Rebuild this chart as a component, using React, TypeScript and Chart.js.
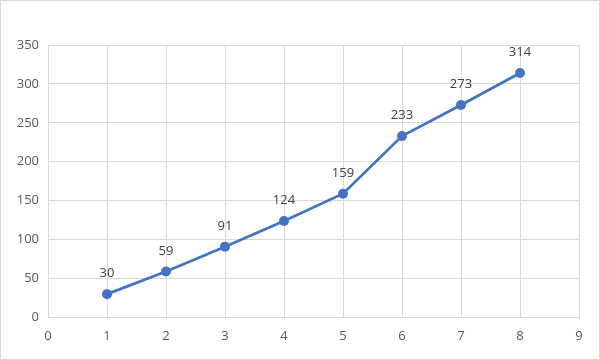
import React, { useEffect, useRef } from "react";
import { Chart, registerables } from "chart.js";

Chart.register(...registerables);

const xValues = [1, 2, 3, 4, 5, 6, 7, 8];
const yValues = [30, 59, 91, 124, 159, 233, 273, 314];

const FONT = "'Open Sans', 'Noto Sans', sans-serif";

const dataLabels = {
  id: "dataLabels",
  afterDatasetsDraw(chart: any) {
    const ctx = chart.ctx;
    const meta = chart.getDatasetMeta(0);
    ctx.save();
    ctx.font = `13px ${FONT}`;
    ctx.fillStyle = "#404040";
    ctx.textAlign = "center";
    ctx.textBaseline = "middle";
    meta.data.forEach((el: any, i: number) => {
      ctx.fillText(String(yValues[i]), el.x, el.y - 20.5);
    });
    ctx.restore();
  },
};

const frame = {
  id: "frame",
  beforeDraw(chart: any) {
    const ctx = chart.ctx;
    ctx.save();
    ctx.fillStyle = "#ffffff";
    ctx.fillRect(0, 0, chart.width, chart.height);
    ctx.strokeStyle = "#D9D9D9";
    ctx.lineWidth = 1;
    ctx.strokeRect(0.5, 0.5, chart.width - 1, chart.height - 1);
    ctx.restore();
  },
};

export default function App() {
  const ref = useRef<HTMLCanvasElement>(null);
  useEffect(() => {
    if (!ref.current) return;
    const chart = new Chart(ref.current, {
      type: "scatter",
      data: {
        datasets: [
          {
            data: xValues.map((x, i) => ({ x, y: yValues[i] })),
            showLine: true,
            borderColor: "#4472C4",
            backgroundColor: "#4472C4",
            borderWidth: 2.75,
            pointRadius: 5,
            pointHoverRadius: 5,
            pointBorderWidth: 0,
          },
        ],
      },
      options: {
        animation: false,
        responsive: false,
        devicePixelRatio: 1,
        layout: { padding: { top: 45, right: 21, left: 0, bottom: 0 } },
        plugins: { legend: { display: false }, tooltip: { enabled: false } },
        scales: {
          x: {
            type: "linear",
            min: 0,
            max: 9,
            ticks: { stepSize: 1, color: "#595959", font: { family: FONT, size: 13 }, padding: 11 },
            grid: { color: "#D9D9D9", drawTicks: false },
            border: { color: "#D9D9D9" },
            afterFit: (s: any) => { s.height = 42.5; },
          },
          y: {
            min: 0,
            max: 350,
            ticks: { stepSize: 50, color: "#595959", font: { family: FONT, size: 13 }, padding: 9 },
            grid: { color: "#D9D9D9", drawTicks: false },
            border: { color: "#D9D9D9" },
            afterFit: (s: any) => { s.width = 48; },
          },
        },
      },
      plugins: [frame, dataLabels],
    });
    return () => chart.destroy();
  }, []);
  return (
    <div style={{ position: "fixed", left: 0, top: 0, width: 600, height: 360 }}>
      <canvas ref={ref} width={600} height={360} style={{ display: "block" }} />
    </div>
  );
}
